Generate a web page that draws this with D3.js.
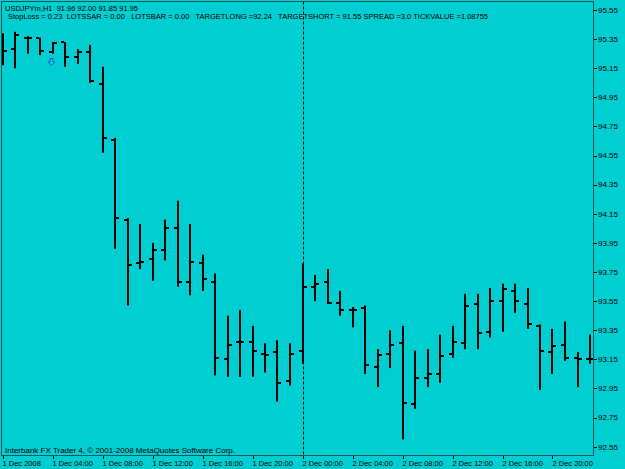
<!DOCTYPE html>
<html><head><meta charset="utf-8">
<script src="https://cdn.jsdelivr.net/npm/d3@7"></script>
<style>html,body{margin:0;padding:0;background:#00CED1;} svg{display:block}</style>
</head><body>
<svg id="c" width="625" height="469"></svg>
<script>
// ---- data ----
const times = [
 "2008-12-01T00:00Z","2008-12-01T01:00Z","2008-12-01T02:00Z","2008-12-01T03:00Z","2008-12-01T04:00Z","2008-12-01T05:00Z",
 "2008-12-01T06:00Z","2008-12-01T07:00Z","2008-12-01T08:00Z","2008-12-01T09:00Z","2008-12-01T10:00Z","2008-12-01T11:00Z",
 "2008-12-01T12:00Z","2008-12-01T13:00Z","2008-12-01T14:00Z","2008-12-01T15:00Z","2008-12-01T16:00Z","2008-12-01T17:00Z",
 "2008-12-01T18:00Z","2008-12-01T19:00Z","2008-12-01T20:00Z","2008-12-01T21:00Z","2008-12-01T22:00Z","2008-12-01T23:00Z",
 "2008-12-02T00:00Z","2008-12-02T01:00Z","2008-12-02T02:00Z","2008-12-02T03:00Z","2008-12-02T04:00Z","2008-12-02T05:00Z",
 "2008-12-02T06:00Z","2008-12-02T07:00Z","2008-12-02T08:00Z","2008-12-02T09:00Z","2008-12-02T10:00Z","2008-12-02T11:00Z",
 "2008-12-02T12:00Z","2008-12-02T13:00Z","2008-12-02T14:00Z","2008-12-02T15:00Z","2008-12-02T16:00Z","2008-12-02T17:00Z",
 "2008-12-02T18:00Z","2008-12-02T19:00Z","2008-12-02T20:00Z","2008-12-02T21:00Z","2008-12-02T22:00Z","2008-12-02T23:00Z"];
const open  = [95.29,95.28,95.36,95.36,95.26,95.33,95.23,95.26,95.04,94.66,94.11,93.81,
               93.84,93.90,94.05,93.68,93.81,93.68,93.15,93.27,93.27,93.19,93.20,93.00,
               93.21,93.65,93.68,93.54,93.49,93.50,93.10,93.19,93.26,92.84,93.02,93.05,
               93.19,93.26,93.53,93.34,93.55,93.62,93.53,93.38,93.20,93.25,93.16,93.15];
const high  = [95.39,95.40,95.37,95.36,95.33,95.33,95.28,95.31,95.16,94.67,94.12,94.08,
               93.95,94.11,94.24,94.08,93.87,93.74,93.45,93.49,93.38,93.26,93.28,93.26,
               93.81,93.73,93.77,93.62,93.51,93.52,93.22,93.35,93.38,93.21,93.22,93.32,
               93.38,93.60,93.60,93.64,93.67,93.67,93.64,93.39,93.36,93.41,93.20,93.32];
const low   = [95.17,95.15,95.25,95.24,95.25,95.16,95.18,95.05,94.57,93.91,93.52,93.77,
               93.69,93.83,93.65,93.59,93.62,93.04,93.03,93.03,93.03,93.06,92.86,92.97,
               93.12,93.55,93.53,93.45,93.37,93.05,92.96,93.09,92.60,92.81,92.96,92.99,
               93.16,93.22,93.22,93.30,93.34,93.47,93.36,92.94,93.05,93.14,92.96,93.12];
const close = [95.27,95.38,95.36,95.27,95.32,95.23,95.26,95.06,94.67,94.12,93.80,93.82,
               93.90,94.05,93.68,93.82,93.70,93.16,93.25,93.27,93.21,93.18,92.99,93.19,
               93.65,93.67,93.54,93.49,93.49,93.11,93.18,93.25,92.85,93.02,93.05,93.17,
               93.27,93.52,93.33,93.55,93.63,93.55,93.39,93.21,93.24,93.16,93.15,93.15];
const yTicks = [92.55,92.75,92.95,93.15,93.35,93.55,93.75,93.95,94.15,94.35,94.55,94.75,94.95,95.15,95.35,95.55];
const xTickTimes = ["2008-12-01T00:00Z","2008-12-01T04:00Z","2008-12-01T08:00Z","2008-12-01T12:00Z","2008-12-01T16:00Z","2008-12-01T20:00Z",
                    "2008-12-02T00:00Z","2008-12-02T04:00Z","2008-12-02T08:00Z","2008-12-02T12:00Z","2008-12-02T16:00Z","2008-12-02T20:00Z"];
const xTickLabels = ["1 Dec 2008","1 Dec 04:00","1 Dec 08:00","1 Dec 12:00","1 Dec 16:00","1 Dec 20:00",
                     "2 Dec 00:00","2 Dec 04:00","2 Dec 08:00","2 Dec 12:00","2 Dec 16:00","2 Dec 20:00"];
const separatorTimes = ["2008-12-02T00:00Z"];
const signalTimes = ["2008-12-01T04:00Z"];
const signalPrices = [95.22];
const headerLine1 = "USDJPYm,H1  91.96 92.00 91.85 91.95";
const headerLine2 = "StopLoss = 0.23  LOTSSAR = 0.00   LOTSBAR = 0.00   TARGETLONG =92.24   TARGETSHORT = 91.55 SPREAD =3.0 TICKVALUE =1.08755";
const footerText = "Interbank FX Trader 4, \u00A9 2001-2008 MetaQuotes Software Corp.";

// ---- chart ----
const W = 625, H = 469;
const plot = {left: 1, top: 1.5, right: 593, bottom: 455};
const svg = d3.select("#c");
const FONT = "'Liberation Sans', Arial, sans-serif";
const frameColor = "#0d5656";

svg.append("rect").attr("width", W).attr("height", H).attr("fill", "#00CED1");

const x = d3.scaleUtc()
  .domain([new Date("2008-12-01T00:00Z"), new Date("2008-12-02T00:00Z")])
  .range([2.5, 302.5]);
const y = d3.scaleLinear().domain([92.55, 95.55]).range([446.7, 10]);

const bars = times.map((t, i) => ({t: new Date(t), o: open[i], h: high[i], l: low[i], c: close[i]}));

svg.append("clipPath").attr("id", "clip").append("rect")
  .attr("x", plot.left + 0.5).attr("y", plot.top).attr("width", plot.right - plot.left - 0.5).attr("height", plot.bottom - plot.top);

const g = svg.append("g").attr("clip-path", "url(#clip)");

// period separator
g.selectAll("line.sep").data(separatorTimes).join("line")
  .attr("x1", d => Math.round(x(new Date(d))) + 0.5).attr("x2", d => Math.round(x(new Date(d))) + 0.5)
  .attr("y1", plot.top).attr("y2", plot.bottom)
  .attr("stroke", "#000").attr("stroke-width", 1).attr("stroke-dasharray", "3,2");

const bg = g.selectAll("g.bar").data(bars).join("g").attr("fill", "#000");
bg.append("rect")
  .attr("x", d => Math.round(x(d.t)) - 1).attr("width", 2)
  .attr("y", d => y(d.h)).attr("height", d => Math.max(1, y(d.l) - y(d.h)));
bg.append("rect")
  .attr("x", d => Math.round(x(d.t)) - 4).attr("width", 3)
  .attr("y", d => Math.round(y(d.o)) - 1).attr("height", 2);
bg.append("rect")
  .attr("x", d => Math.round(x(d.t)) + 1).attr("width", 3)
  .attr("y", d => Math.round(y(d.c)) - 1).attr("height", 2);

// signal arrow (hollow down arrow)
g.selectAll("path.sig").data(signalTimes).join("path")
  .attr("transform", (d, i) => `translate(${Math.round(x(new Date(d))) - 1.5},${Math.round(y(signalPrices[i]))})`)
  .attr("d", "M-1.5,0.5 L1.5,0.5 L1.5,4 L3.5,4 L0,7.5 L-3.5,4 L-1.5,4 Z")
  .attr("fill", "none").attr("stroke", "#1b5fd8").attr("stroke-width", 1);

// frame
const fr = svg.append("g").attr("stroke", frameColor).attr("stroke-width", 1).attr("fill", "none");
fr.append("line").attr("x1", 1.5).attr("x2", 1.5).attr("y1", plot.top).attr("y2", plot.bottom + 0.5);
fr.append("line").attr("x1", 1).attr("x2", plot.right + 0.5).attr("y1", 1.5).attr("y2", 1.5);
fr.append("line").attr("x1", plot.right + 0.5).attr("x2", plot.right + 0.5).attr("y1", 1).attr("y2", plot.bottom + 1);
fr.append("line").attr("x1", 1).attr("x2", plot.right + 1).attr("y1", plot.bottom + 0.5).attr("y2", plot.bottom + 0.5);

// y axis (right)
const ya = svg.append("g");
ya.selectAll("line").data(yTicks).join("line")
  .attr("x1", plot.right + 1).attr("x2", plot.right + 4)
  .attr("y1", d => Math.round(y(d)) + 0.5).attr("y2", d => Math.round(y(d)) + 0.5)
  .attr("stroke", "#000").attr("stroke-width", 1);
ya.selectAll("text").data(yTicks).join("text")
  .attr("x", plot.right + 5).attr("y", d => y(d)).attr("dy", "0.35em")
  .attr("font-family", FONT).attr("font-size", 8).attr("fill", "#000")
  .text(d => d.toFixed(2));

// x axis (bottom)
const xa = svg.append("g");
xa.selectAll("line").data(xTickTimes).join("line")
  .attr("x1", d => Math.round(x(new Date(d))) + 0.5).attr("x2", d => Math.round(x(new Date(d))) + 0.5)
  .attr("y1", plot.bottom + 1).attr("y2", plot.bottom + 4)
  .attr("stroke", "#000").attr("stroke-width", 1);
xa.selectAll("text").data(xTickTimes).join("text")
  .attr("x", d => x(new Date(d))).attr("y", 466)
  .attr("font-family", FONT).attr("font-size", 7.5).attr("fill", "#000")
  .text((d, i) => xTickLabels[i]);

// texts
function txt(s, xx, yy, fs) {
  return svg.append("text").attr("x", xx).attr("y", yy)
    .attr("font-family", FONT).attr("font-size", fs).attr("fill", "#000")
    .style("white-space", "pre").text(s);
}
txt(headerLine1, 5, 11, 7.5);
txt(headerLine2, 8, 19, 7.5).attr("textLength", 480).attr("lengthAdjust", "spacing");
txt(footerText, 5, 452.5, 8);
</script>
</body></html>
